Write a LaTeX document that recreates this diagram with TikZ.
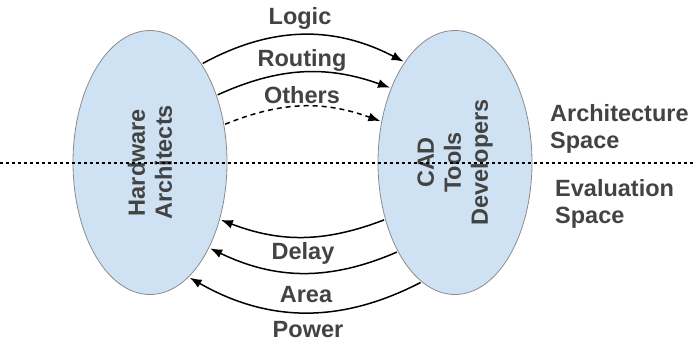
\documentclass[tikz,border=0pt]{standalone}
\usepackage{fontspec}
\setmainfont{Liberation Sans}
\usetikzlibrary{shapes.geometric,arrows.meta}
\definecolor{blobfill}{HTML}{CFE2F3}
\definecolor{blobline}{HTML}{8C8C8C}
\definecolor{ink}{HTML}{434343}
\begin{document}
\begin{tikzpicture}[x=1pt,y=1pt,
  party/.style={ellipse,draw=blobline,line width=0.8pt,fill=blobfill,
    minimum width=154pt,minimum height=264pt,inner sep=0pt,outer sep=1.5pt},
  lbl/.style={text=ink,font=\fontsize{23.5}{27}\selectfont\bfseries,inner sep=0pt},
  flow/.style={line width=1.5pt,-{Latex[length=12pt,width=9pt]}},
  divider/.style={line width=1.5pt,dash pattern=on 3pt off 3pt}]
\useasboundingbox (0,0) rectangle (696,341);

% the two groups
\node[party] (hw) at (150,178.5) {};
\node[party] (cad) at (455,178.5) {};
\node[lbl,rotate=90,align=center] (hwtext) at (hw.center) {Hardware\\Architects};
\node[lbl,rotate=90,align=center] (cadtext) at (cad.center) {CAD\\Tools\\Developers};

% boundary between the two spaces
\coordinate (divW) at (0,178);
\coordinate (divE) at (696,178);
\draw[divider] (divW) -- (divE);

% space names
\node[lbl,anchor=west,align=left] (arch) at (550,212) {Architecture\\Space};
\node[lbl,anchor=west,align=left] (eval) at (555,137.5) {Evaluation\\Space};

% inputs from the architects
\draw[flow] (hw.62) to[bend left=28] (cad.117.4);
\draw[flow] (hw.45.4) to[bend left=22] (cad.131.6);
\draw[flow,dash pattern=on 5pt off 4pt] (hw.27.5) to[bend left=21] (cad.151.3);
\node[lbl] (logic) at (300,323) {Logic};
\node[lbl] (routing) at (302,281) {Routing};
\node[lbl] (others) at (302,246) {Others};

% results back from the tools
\draw[flow] (cad.219) to[bend left=21] (hw.-39.1);
\draw[flow] (cad.237.3) to[bend left=24.5] (hw.-55.6);
\draw[flow] (cad.254) to[bend left=28.5] (hw.-71.1);
\node[lbl] (delay) at (303,88) {Delay};
\node[lbl] (area) at (306,46) {Area};
\node[lbl] (power) at (308,11.5) {Power};
\end{tikzpicture}
\end{document}
